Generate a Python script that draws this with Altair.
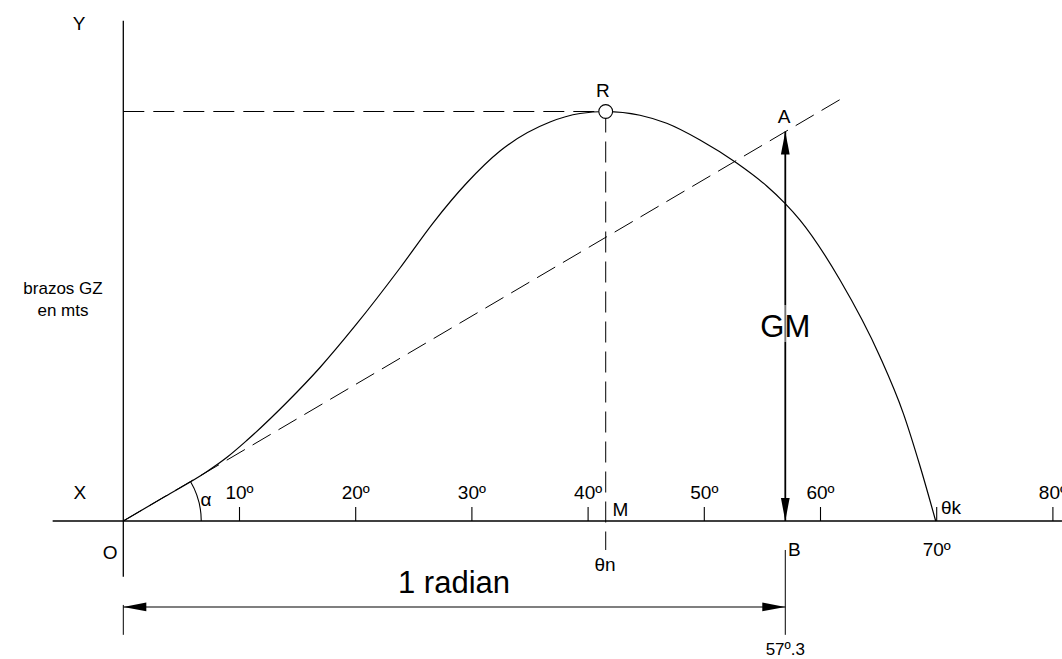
import altair as alt
import pandas as pd

# ---- values ----
# GZ curve: heel angle (degrees) and righting arm GZ (relative, max = 1)
heel_deg = [0, 3.589, 7.177, 8.898, 10.620, 14.062, 16.928, 20.026, 23.812, 26.652,
            29.552, 32.418, 36.721, 39.303, 41.515, 44.466, 46.764, 49.630, 52.788,
            55.370, 56.945, 58.236, 61.678, 65.120, 67.126, 68.563, 69.914]
gz = [0, 0.0598, 0.1204, 0.1551, 0.1966, 0.2894, 0.3749, 0.4793, 0.6178, 0.7277,
      0.8254, 0.9035, 0.9744, 0.9951, 1.0, 0.9909, 0.9712, 0.9304, 0.8742,
      0.8181, 0.7758, 0.7350, 0.5885, 0.4012, 0.2629, 0.1343, 0]

tick_deg = [10, 20, 30, 40, 50, 60, 70, 80]
tick_text = ["10º", "20º", "30º", "40º", "50º", "60º", "70º", "80º"]

theta_n = 41.515     # angle of max GZ (point R / M)
gz_max = 1.0
one_radian = 56.97   # drawn position of 57º.3
gm = 0.951           # GM height at one radian (point A)
theta_k = 69.914     # vanishing angle
tangent_end = [62.09, 1.036]

XDOM = [-10.611, 80.783]
YDOM = [-0.337, 1.2723]
FONT = "Liberation Sans"

xs = alt.Scale(domain=XDOM, nice=False, zero=False)
ys = alt.Scale(domain=YDOM, nice=False, zero=False)


def X(f="x"):
    return alt.X(f"{f}:Q", scale=xs, axis=None)


def Y(f="y"):
    return alt.Y(f"{f}:Q", scale=ys, axis=None)


def rules(df, color="black", **kw):
    return alt.Chart(df).mark_rule(color=color, **kw).encode(
        x=X("x"), y=Y("y"), x2="x2:Q", y2="y2:Q")


# axes and small ticks
axes_df = pd.DataFrame({
    "x": [0, -6.08], "y": [-0.136, 0], "x2": [0, 80.78], "y2": [1.2217, 0]})
ticks_df = pd.DataFrame({"x": tick_deg, "y": [0] * len(tick_deg),
                         "x2": tick_deg, "y2": [0.0342] * len(tick_deg)})
dim_df = pd.DataFrame({"x": [0, one_radian], "y": [-0.205, -0.0708],
                       "x2": [0, one_radian], "y2": [-0.278, -0.278]})

dash_df = pd.DataFrame({
    "x": [0, theta_n, 0],
    "y": [gz_max, gz_max, 0],
    "x2": [theta_n, theta_n, tangent_end[0]],
    "y2": [gz_max, -0.0708, tangent_end[1]]})

gm_df = pd.DataFrame({"x": [one_radian], "y": [0], "x2": [one_radian], "y2": [gm]})
gm_veil_df = pd.DataFrame({"x": [one_radian], "y": [0.4371], "x2": [one_radian],
                           "y2": [0.5275]})
rad_df = pd.DataFrame({"x": [0], "y": [-0.21], "x2": [one_radian], "y2": [-0.21]})

arrow_df = pd.DataFrame({
    "x": [one_radian, one_radian, 0, one_radian],
    "y": [gm, 0, -0.21, -0.21],
    "ang": [270, 90, 180, 0]})

curve_df = pd.DataFrame({"x": heel_deg, "y": gz})
r_df = pd.DataFrame({"x": [theta_n], "y": [gz_max]})
origin_df = pd.DataFrame({"x": [0], "y": [0]})

layers = []
layers.append(rules(axes_df, strokeWidth=1.3))
layers.append(rules(ticks_df, strokeWidth=1.1))
layers.append(rules(dim_df, strokeWidth=1.0))
layers.append(rules(dash_df, strokeWidth=1.0, strokeDash=[21, 9]))
layers.append(rules(gm_df, strokeWidth=1.8))
layers.append(rules(gm_veil_df, color="white", strokeWidth=2.5, opacity=0.45))
layers.append(rules(rad_df, strokeWidth=1.2))

layers.append(alt.Chart(curve_df).mark_line(color="black", strokeWidth=1.2,
                                            interpolate="monotone").encode(
    x=X("x"), y=Y("y")))

layers.append(alt.Chart(arrow_df).mark_point(
    shape="M0,0 L-1,-0.19 L-1,0.19 Z", filled=True, color="black", opacity=1,
    size=2116, strokeWidth=0).encode(
    x=X("x"), y=Y("y"), angle=alt.Angle("ang:Q", scale=None)))

layers.append(alt.Chart(r_df).mark_point(
    shape="circle", filled=True, fill="white", stroke="black", strokeWidth=1.1,
    opacity=1, size=190).encode(x=X("x"), y=Y("y")))

layers.append(alt.Chart(origin_df).mark_arc(color="black").encode(
    x=X("x"), y=Y("y"), radius=alt.value(78.5), radius2=alt.value(77.4),
    theta=alt.value(1.039), theta2=alt.value(1.5708)))

# text labels
tick_lab_df = pd.DataFrame({
    "x": tick_deg,
    "y": [0.0684 if t != 70 else -0.0708 for t in tick_deg],
    "t": tick_text})
layers.append(alt.Chart(tick_lab_df).mark_text(
    font=FONT, fontSize=19, baseline="middle", align="center").encode(
    x=X("x"), y=Y("y"), text="t:N"))

center_lab_df = pd.DataFrame({
    "x": [-3.81, -3.73, -1.14, 7.12, 41.28, 56.86, 41.45],
    "y": [1.2137, 0.0684, -0.078, 0.0513, 1.050, 0.9866, -0.107],
    "t": ["Y", "X", "O", "α", "R", "A", "θn"]})
layers.append(alt.Chart(center_lab_df).mark_text(
    font=FONT, fontSize=19, baseline="middle", align="center").encode(
    x=X("x"), y=Y("y"), text="t:N"))

left_lab_df = pd.DataFrame({
    "x": [42.1, 57.2, 70.37],
    "y": [0.0269, -0.0708, 0.0317],
    "t": ["M", "B", "θk"]})
layers.append(alt.Chart(left_lab_df).mark_text(
    font=FONT, fontSize=19, baseline="middle", align="left").encode(
    x=X("x"), y=Y("y"), text="t:N"))

gz_lab_df = pd.DataFrame({"x": [-5.19, -5.19], "y": [0.5665, 0.5128],
                          "t": ["brazos GZ", "en mts"]})
layers.append(alt.Chart(gz_lab_df).mark_text(
    font=FONT, fontSize=17, baseline="middle", align="center").encode(
    x=X("x"), y=Y("y"), text="t:N"))

big_lab_df = pd.DataFrame({"x": [one_radian, 28.46], "y": [0.4725, -0.154],
                           "t": ["GM", "1 radian"]})
layers.append(alt.Chart(big_lab_df).mark_text(
    font=FONT, fontSize=31, baseline="middle", align="center").encode(
    x=X("x"), y=Y("y"), text="t:N"))

rad_lab_df = pd.DataFrame({"x": [one_radian], "y": [-0.315], "t": ["57º.3"]})
layers.append(alt.Chart(rad_lab_df).mark_text(
    font=FONT, fontSize=17, baseline="middle", align="center").encode(
    x=X("x"), y=Y("y"), text="t:N"))

chart = alt.layer(*layers).properties(
    width=1062, height=659, padding=0, autosize="none", background="white"
).configure_view(stroke=None)

chart.save("out.html", embed_options={"renderer": "svg", "actions": False})
